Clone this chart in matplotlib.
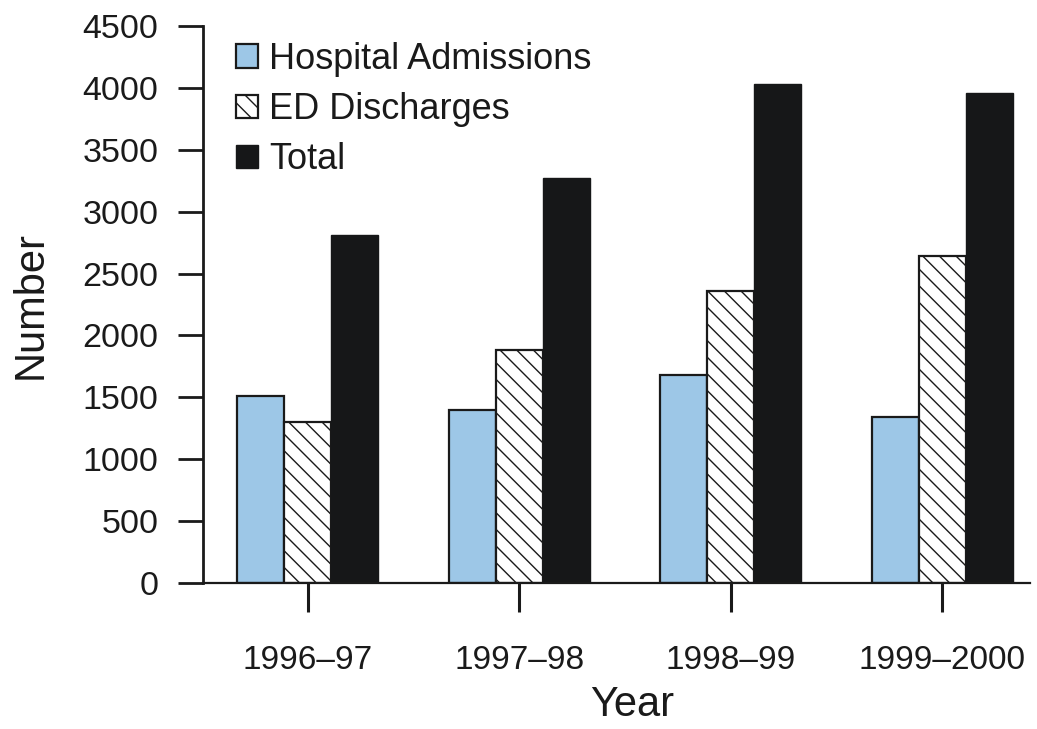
import numpy as np
import matplotlib.pyplot as plt

plt.rcParams['font.family'] = ['Liberation Sans', 'DejaVu Sans']
plt.rcParams['hatch.linewidth'] = 1.0

years = ["1996\u201397", "1997\u201398", "1998\u201399", "1999\u20132000"]
admissions = [1510, 1400, 1680, 1340]
ed_discharges = [1300, 1880, 2360, 2640]
totals = [2810, 3270, 4030, 3960]

fig = plt.figure(figsize=(10.37, 7.29), dpi=100)
ax = fig.add_axes([0.1958, 0.2003, 0.7975, 0.764])

x = np.arange(len(years))
w = 0.222

ax.bar(x - w, admissions, w, color="#9dc7e7", edgecolor="#1a1a1a",
       linewidth=1.6, label="Hospital Admissions")
ax.bar(x, ed_discharges, w, color="white", edgecolor="#1a1a1a",
       linewidth=1.6, hatch="\\\\", label="ED Discharges")
ax.bar(x + w, totals, w, color="#161718", edgecolor="#161718",
       linewidth=1.0, label="Total")

ax.set_xlim(-0.495, 3.415)
ax.set_ylim(0, 4500)
ax.set_yticks(np.arange(0, 4501, 500))
ax.set_xticks(x)
ax.set_xticklabels(years)

for s in ["top", "right"]:
    ax.spines[s].set_visible(False)
ax.spines["left"].set_linewidth(2.0)
ax.spines["bottom"].set_linewidth(1.6)
ax.spines["left"].set_color("#1a1a1a")
ax.spines["bottom"].set_color("#1a1a1a")

ax.tick_params(axis="y", direction="out", length=18, width=2.0,
               labelsize=24.5, pad=14, color="#1a1a1a", labelcolor="#1a1a1a")
ax.tick_params(axis="x", direction="out", length=21, width=2.2,
               labelsize=24, pad=24, color="#1a1a1a", labelcolor="#1a1a1a")

ax.set_ylabel("Number", fontsize=30, labelpad=23, color="#1a1a1a")
ax.set_xlabel("Year", fontsize=30, labelpad=6, color="#1a1a1a")
ax.xaxis.label.set_x(0.519)

leg = ax.legend(loc="upper left", bbox_to_anchor=(0.0, 1.03), frameon=False,
                fontsize=26, handlelength=0.62, handleheight=0.62,
                handletextpad=0.3, labelspacing=0.42)
for t in leg.get_texts():
    t.set_color("#1a1a1a")

fig.savefig("out.png", dpi=100)
